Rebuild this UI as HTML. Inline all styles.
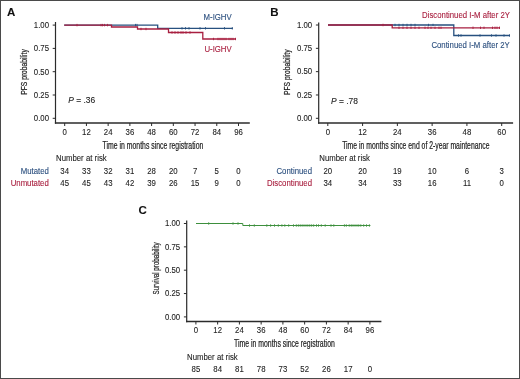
<!DOCTYPE html>
<html><head><meta charset="utf-8"><style>
html,body{margin:0;padding:0;background:#fff;}
body{width:520px;height:379px;overflow:hidden;}
svg{display:block;font-family:"Liberation Sans",sans-serif;will-change:transform;}
text{stroke-linejoin:round;}
</style></head><body>
<svg width="520" height="379" viewBox="0 0 520 379">
<rect x="0" y="0" width="520" height="379" fill="#fff"/>
<text x="7.00" y="15.80" text-anchor="start" font-size="11.5" fill="#111" stroke="#111" stroke-width="0.1" font-weight="bold">A</text>
<line x1="55.50" y1="22.00" x2="55.50" y2="123.70" stroke="#2b2b2b" stroke-width="1.2"/>
<line x1="54.90" y1="122.90" x2="249.80" y2="122.90" stroke="#2b2b2b" stroke-width="1.5"/>
<line x1="52.70" y1="25.10" x2="55.50" y2="25.10" stroke="#2b2b2b" stroke-width="1.0"/>
<text transform="translate(49.00,27.90) scale(0.9398,1)" text-anchor="end" font-size="8.3" fill="#1e1e1e" stroke="#1e1e1e" stroke-width="0.1" >1.00</text>
<line x1="52.70" y1="48.40" x2="55.50" y2="48.40" stroke="#2b2b2b" stroke-width="1.0"/>
<text transform="translate(49.00,51.20) scale(0.9398,1)" text-anchor="end" font-size="8.3" fill="#1e1e1e" stroke="#1e1e1e" stroke-width="0.1" >0.75</text>
<line x1="52.70" y1="71.70" x2="55.50" y2="71.70" stroke="#2b2b2b" stroke-width="1.0"/>
<text transform="translate(49.00,74.50) scale(0.9398,1)" text-anchor="end" font-size="8.3" fill="#1e1e1e" stroke="#1e1e1e" stroke-width="0.1" >0.50</text>
<line x1="52.70" y1="95.00" x2="55.50" y2="95.00" stroke="#2b2b2b" stroke-width="1.0"/>
<text transform="translate(49.00,97.80) scale(0.9398,1)" text-anchor="end" font-size="8.3" fill="#1e1e1e" stroke="#1e1e1e" stroke-width="0.1" >0.25</text>
<line x1="52.70" y1="118.30" x2="55.50" y2="118.30" stroke="#2b2b2b" stroke-width="1.0"/>
<text transform="translate(49.00,121.10) scale(0.9398,1)" text-anchor="end" font-size="8.3" fill="#1e1e1e" stroke="#1e1e1e" stroke-width="0.1" >0.00</text>
<line x1="64.70" y1="123.00" x2="64.70" y2="126.00" stroke="#2b2b2b" stroke-width="1.0"/>
<text transform="translate(64.70,134.60) scale(0.9398,1)" text-anchor="middle" font-size="8.3" fill="#1e1e1e" stroke="#1e1e1e" stroke-width="0.1" >0</text>
<line x1="86.43" y1="123.00" x2="86.43" y2="126.00" stroke="#2b2b2b" stroke-width="1.0"/>
<text transform="translate(86.43,134.60) scale(0.9398,1)" text-anchor="middle" font-size="8.3" fill="#1e1e1e" stroke="#1e1e1e" stroke-width="0.1" >12</text>
<line x1="108.15" y1="123.00" x2="108.15" y2="126.00" stroke="#2b2b2b" stroke-width="1.0"/>
<text transform="translate(108.15,134.60) scale(0.9398,1)" text-anchor="middle" font-size="8.3" fill="#1e1e1e" stroke="#1e1e1e" stroke-width="0.1" >24</text>
<line x1="129.88" y1="123.00" x2="129.88" y2="126.00" stroke="#2b2b2b" stroke-width="1.0"/>
<text transform="translate(129.88,134.60) scale(0.9398,1)" text-anchor="middle" font-size="8.3" fill="#1e1e1e" stroke="#1e1e1e" stroke-width="0.1" >36</text>
<line x1="151.60" y1="123.00" x2="151.60" y2="126.00" stroke="#2b2b2b" stroke-width="1.0"/>
<text transform="translate(151.60,134.60) scale(0.9398,1)" text-anchor="middle" font-size="8.3" fill="#1e1e1e" stroke="#1e1e1e" stroke-width="0.1" >48</text>
<line x1="173.32" y1="123.00" x2="173.32" y2="126.00" stroke="#2b2b2b" stroke-width="1.0"/>
<text transform="translate(173.32,134.60) scale(0.9398,1)" text-anchor="middle" font-size="8.3" fill="#1e1e1e" stroke="#1e1e1e" stroke-width="0.1" >60</text>
<line x1="195.05" y1="123.00" x2="195.05" y2="126.00" stroke="#2b2b2b" stroke-width="1.0"/>
<text transform="translate(195.05,134.60) scale(0.9398,1)" text-anchor="middle" font-size="8.3" fill="#1e1e1e" stroke="#1e1e1e" stroke-width="0.1" >72</text>
<line x1="216.78" y1="123.00" x2="216.78" y2="126.00" stroke="#2b2b2b" stroke-width="1.0"/>
<text transform="translate(216.78,134.60) scale(0.9398,1)" text-anchor="middle" font-size="8.3" fill="#1e1e1e" stroke="#1e1e1e" stroke-width="0.1" >84</text>
<line x1="238.50" y1="123.00" x2="238.50" y2="126.00" stroke="#2b2b2b" stroke-width="1.0"/>
<text transform="translate(238.50,134.60) scale(0.9398,1)" text-anchor="middle" font-size="8.3" fill="#1e1e1e" stroke="#1e1e1e" stroke-width="0.1" >96</text>
<text x="102.50" y="148.80" font-size="10" fill="#1e1e1e" stroke="#1e1e1e" stroke-width="0.22" textLength="100.80" lengthAdjust="spacingAndGlyphs">Time in months since registration</text>
<text transform="translate(26.90,94.80) rotate(-90)" x="0" y="0" font-size="9.3" fill="#1e1e1e" stroke="#1e1e1e" stroke-width="0.22" textLength="45.60" lengthAdjust="spacingAndGlyphs">PFS probability</text>
<path d="M64.20,25.10 H157.70 V28.30 H232.80" fill="none" stroke="#27507f" stroke-width="1.3" stroke-linejoin="miter" stroke-linecap="butt"/>
<line x1="182.00" y1="27.10" x2="182.00" y2="29.50" stroke="#27507f" stroke-width="0.9"/>
<line x1="185.50" y1="27.10" x2="185.50" y2="29.50" stroke="#27507f" stroke-width="0.9"/>
<line x1="189.00" y1="27.10" x2="189.00" y2="29.50" stroke="#27507f" stroke-width="0.9"/>
<line x1="200.00" y1="27.10" x2="200.00" y2="29.50" stroke="#27507f" stroke-width="0.9"/>
<line x1="205.50" y1="27.10" x2="205.50" y2="29.50" stroke="#27507f" stroke-width="0.9"/>
<line x1="224.50" y1="27.10" x2="224.50" y2="29.50" stroke="#27507f" stroke-width="0.9"/>
<line x1="232.30" y1="27.10" x2="232.30" y2="29.50" stroke="#27507f" stroke-width="0.9"/>
<line x1="135.50" y1="23.90" x2="135.50" y2="26.30" stroke="#27507f" stroke-width="0.9"/>
<line x1="137.00" y1="23.90" x2="137.00" y2="26.30" stroke="#27507f" stroke-width="0.9"/>
<path d="M64.20,25.10 H111.50 V27.00 H137.50 V29.00 H168.50 V32.50 H202.80 V39.00 H236.00" fill="none" stroke="#a81f40" stroke-width="1.3" stroke-linejoin="miter" stroke-linecap="butt"/>
<line x1="77.00" y1="23.90" x2="77.00" y2="26.30" stroke="#a81f40" stroke-width="0.9"/>
<line x1="101.00" y1="23.90" x2="101.00" y2="26.30" stroke="#a81f40" stroke-width="0.9"/>
<line x1="102.50" y1="23.90" x2="102.50" y2="26.30" stroke="#a81f40" stroke-width="0.9"/>
<line x1="104.50" y1="23.90" x2="104.50" y2="26.30" stroke="#a81f40" stroke-width="0.9"/>
<line x1="107.50" y1="23.90" x2="107.50" y2="26.30" stroke="#a81f40" stroke-width="0.9"/>
<line x1="141.00" y1="27.80" x2="141.00" y2="30.20" stroke="#a81f40" stroke-width="0.9"/>
<line x1="146.00" y1="27.80" x2="146.00" y2="30.20" stroke="#a81f40" stroke-width="0.9"/>
<line x1="172.00" y1="31.30" x2="172.00" y2="33.70" stroke="#a81f40" stroke-width="0.9"/>
<line x1="175.00" y1="31.30" x2="175.00" y2="33.70" stroke="#a81f40" stroke-width="0.9"/>
<line x1="178.00" y1="31.30" x2="178.00" y2="33.70" stroke="#a81f40" stroke-width="0.9"/>
<line x1="181.00" y1="31.30" x2="181.00" y2="33.70" stroke="#a81f40" stroke-width="0.9"/>
<line x1="183.00" y1="31.30" x2="183.00" y2="33.70" stroke="#a81f40" stroke-width="0.9"/>
<line x1="186.00" y1="31.30" x2="186.00" y2="33.70" stroke="#a81f40" stroke-width="0.9"/>
<line x1="190.00" y1="31.30" x2="190.00" y2="33.70" stroke="#a81f40" stroke-width="0.9"/>
<line x1="213.50" y1="37.80" x2="213.50" y2="40.20" stroke="#a81f40" stroke-width="0.9"/>
<line x1="218.00" y1="37.80" x2="218.00" y2="40.20" stroke="#a81f40" stroke-width="0.9"/>
<line x1="220.00" y1="37.80" x2="220.00" y2="40.20" stroke="#a81f40" stroke-width="0.9"/>
<line x1="222.00" y1="37.80" x2="222.00" y2="40.20" stroke="#a81f40" stroke-width="0.9"/>
<line x1="224.00" y1="37.80" x2="224.00" y2="40.20" stroke="#a81f40" stroke-width="0.9"/>
<line x1="226.00" y1="37.80" x2="226.00" y2="40.20" stroke="#a81f40" stroke-width="0.9"/>
<line x1="229.00" y1="37.80" x2="229.00" y2="40.20" stroke="#a81f40" stroke-width="0.9"/>
<line x1="231.00" y1="37.80" x2="231.00" y2="40.20" stroke="#a81f40" stroke-width="0.9"/>
<line x1="233.00" y1="37.80" x2="233.00" y2="40.20" stroke="#a81f40" stroke-width="0.9"/>
<line x1="235.50" y1="37.80" x2="235.50" y2="40.20" stroke="#a81f40" stroke-width="0.9"/>
<text transform="translate(231.70,20.30) scale(0.9398,1)" text-anchor="end" font-size="8.3" fill="#2a4e7e" stroke="#2a4e7e" stroke-width="0.1" >M-IGHV</text>
<text transform="translate(231.70,51.80) scale(0.9398,1)" text-anchor="end" font-size="8.3" fill="#a81d3d" stroke="#a81d3d" stroke-width="0.1" >U-IGHV</text>
<text transform="translate(68.20,103.30) scale(0.995,1)" text-anchor="start" font-size="8.5" fill="#1e1e1e" stroke="#1e1e1e" stroke-width="0.1" ><tspan font-style="italic">P</tspan> = .36</text>
<text transform="translate(56.00,161.20) scale(0.9398,1)" text-anchor="start" font-size="8.3" fill="#1e1e1e" stroke="#1e1e1e" stroke-width="0.1" >Number at risk</text>
<text transform="translate(48.80,173.80) scale(0.9398,1)" text-anchor="end" font-size="8.3" fill="#2a4e7e" stroke="#2a4e7e" stroke-width="0.1" >Mutated</text>
<text transform="translate(48.80,186.00) scale(0.9398,1)" text-anchor="end" font-size="8.3" fill="#a81d3d" stroke="#a81d3d" stroke-width="0.1" >Unmutated</text>
<text transform="translate(64.70,173.80) scale(0.9398,1)" text-anchor="middle" font-size="8.3" fill="#1e1e1e" stroke="#1e1e1e" stroke-width="0.1" >34</text>
<text transform="translate(64.70,186.00) scale(0.9398,1)" text-anchor="middle" font-size="8.3" fill="#1e1e1e" stroke="#1e1e1e" stroke-width="0.1" >45</text>
<text transform="translate(86.43,173.80) scale(0.9398,1)" text-anchor="middle" font-size="8.3" fill="#1e1e1e" stroke="#1e1e1e" stroke-width="0.1" >33</text>
<text transform="translate(86.43,186.00) scale(0.9398,1)" text-anchor="middle" font-size="8.3" fill="#1e1e1e" stroke="#1e1e1e" stroke-width="0.1" >45</text>
<text transform="translate(108.15,173.80) scale(0.9398,1)" text-anchor="middle" font-size="8.3" fill="#1e1e1e" stroke="#1e1e1e" stroke-width="0.1" >32</text>
<text transform="translate(108.15,186.00) scale(0.9398,1)" text-anchor="middle" font-size="8.3" fill="#1e1e1e" stroke="#1e1e1e" stroke-width="0.1" >43</text>
<text transform="translate(129.88,173.80) scale(0.9398,1)" text-anchor="middle" font-size="8.3" fill="#1e1e1e" stroke="#1e1e1e" stroke-width="0.1" >31</text>
<text transform="translate(129.88,186.00) scale(0.9398,1)" text-anchor="middle" font-size="8.3" fill="#1e1e1e" stroke="#1e1e1e" stroke-width="0.1" >42</text>
<text transform="translate(151.60,173.80) scale(0.9398,1)" text-anchor="middle" font-size="8.3" fill="#1e1e1e" stroke="#1e1e1e" stroke-width="0.1" >28</text>
<text transform="translate(151.60,186.00) scale(0.9398,1)" text-anchor="middle" font-size="8.3" fill="#1e1e1e" stroke="#1e1e1e" stroke-width="0.1" >39</text>
<text transform="translate(173.32,173.80) scale(0.9398,1)" text-anchor="middle" font-size="8.3" fill="#1e1e1e" stroke="#1e1e1e" stroke-width="0.1" >20</text>
<text transform="translate(173.32,186.00) scale(0.9398,1)" text-anchor="middle" font-size="8.3" fill="#1e1e1e" stroke="#1e1e1e" stroke-width="0.1" >26</text>
<text transform="translate(195.05,173.80) scale(0.9398,1)" text-anchor="middle" font-size="8.3" fill="#1e1e1e" stroke="#1e1e1e" stroke-width="0.1" >7</text>
<text transform="translate(195.05,186.00) scale(0.9398,1)" text-anchor="middle" font-size="8.3" fill="#1e1e1e" stroke="#1e1e1e" stroke-width="0.1" >15</text>
<text transform="translate(216.78,173.80) scale(0.9398,1)" text-anchor="middle" font-size="8.3" fill="#1e1e1e" stroke="#1e1e1e" stroke-width="0.1" >5</text>
<text transform="translate(216.78,186.00) scale(0.9398,1)" text-anchor="middle" font-size="8.3" fill="#1e1e1e" stroke="#1e1e1e" stroke-width="0.1" >9</text>
<text transform="translate(238.50,173.80) scale(0.9398,1)" text-anchor="middle" font-size="8.3" fill="#1e1e1e" stroke="#1e1e1e" stroke-width="0.1" >0</text>
<text transform="translate(238.50,186.00) scale(0.9398,1)" text-anchor="middle" font-size="8.3" fill="#1e1e1e" stroke="#1e1e1e" stroke-width="0.1" >0</text>
<text x="270.20" y="15.80" text-anchor="start" font-size="11.5" fill="#111" stroke="#111" stroke-width="0.1" font-weight="bold">B</text>
<line x1="318.70" y1="22.50" x2="318.70" y2="123.70" stroke="#2b2b2b" stroke-width="1.2"/>
<line x1="318.10" y1="122.90" x2="513.10" y2="122.90" stroke="#2b2b2b" stroke-width="1.5"/>
<line x1="315.90" y1="25.00" x2="318.70" y2="25.00" stroke="#2b2b2b" stroke-width="1.0"/>
<text transform="translate(312.20,27.80) scale(0.9398,1)" text-anchor="end" font-size="8.3" fill="#1e1e1e" stroke="#1e1e1e" stroke-width="0.1" >1.00</text>
<line x1="315.90" y1="48.33" x2="318.70" y2="48.33" stroke="#2b2b2b" stroke-width="1.0"/>
<text transform="translate(312.20,51.12) scale(0.9398,1)" text-anchor="end" font-size="8.3" fill="#1e1e1e" stroke="#1e1e1e" stroke-width="0.1" >0.75</text>
<line x1="315.90" y1="71.65" x2="318.70" y2="71.65" stroke="#2b2b2b" stroke-width="1.0"/>
<text transform="translate(312.20,74.45) scale(0.9398,1)" text-anchor="end" font-size="8.3" fill="#1e1e1e" stroke="#1e1e1e" stroke-width="0.1" >0.50</text>
<line x1="315.90" y1="94.97" x2="318.70" y2="94.97" stroke="#2b2b2b" stroke-width="1.0"/>
<text transform="translate(312.20,97.77) scale(0.9398,1)" text-anchor="end" font-size="8.3" fill="#1e1e1e" stroke="#1e1e1e" stroke-width="0.1" >0.25</text>
<line x1="315.90" y1="118.30" x2="318.70" y2="118.30" stroke="#2b2b2b" stroke-width="1.0"/>
<text transform="translate(312.20,121.10) scale(0.9398,1)" text-anchor="end" font-size="8.3" fill="#1e1e1e" stroke="#1e1e1e" stroke-width="0.1" >0.00</text>
<line x1="327.80" y1="123.00" x2="327.80" y2="126.00" stroke="#2b2b2b" stroke-width="1.0"/>
<text transform="translate(327.80,134.60) scale(0.9398,1)" text-anchor="middle" font-size="8.3" fill="#1e1e1e" stroke="#1e1e1e" stroke-width="0.1" >0</text>
<line x1="362.58" y1="123.00" x2="362.58" y2="126.00" stroke="#2b2b2b" stroke-width="1.0"/>
<text transform="translate(362.58,134.60) scale(0.9398,1)" text-anchor="middle" font-size="8.3" fill="#1e1e1e" stroke="#1e1e1e" stroke-width="0.1" >12</text>
<line x1="397.36" y1="123.00" x2="397.36" y2="126.00" stroke="#2b2b2b" stroke-width="1.0"/>
<text transform="translate(397.36,134.60) scale(0.9398,1)" text-anchor="middle" font-size="8.3" fill="#1e1e1e" stroke="#1e1e1e" stroke-width="0.1" >24</text>
<line x1="432.14" y1="123.00" x2="432.14" y2="126.00" stroke="#2b2b2b" stroke-width="1.0"/>
<text transform="translate(432.14,134.60) scale(0.9398,1)" text-anchor="middle" font-size="8.3" fill="#1e1e1e" stroke="#1e1e1e" stroke-width="0.1" >36</text>
<line x1="466.92" y1="123.00" x2="466.92" y2="126.00" stroke="#2b2b2b" stroke-width="1.0"/>
<text transform="translate(466.92,134.60) scale(0.9398,1)" text-anchor="middle" font-size="8.3" fill="#1e1e1e" stroke="#1e1e1e" stroke-width="0.1" >48</text>
<line x1="501.70" y1="123.00" x2="501.70" y2="126.00" stroke="#2b2b2b" stroke-width="1.0"/>
<text transform="translate(501.70,134.60) scale(0.9398,1)" text-anchor="middle" font-size="8.3" fill="#1e1e1e" stroke="#1e1e1e" stroke-width="0.1" >60</text>
<text x="342.20" y="148.80" font-size="10" fill="#1e1e1e" stroke="#1e1e1e" stroke-width="0.22" textLength="147.30" lengthAdjust="spacingAndGlyphs">Time in months since end of 2-year maintenance</text>
<text transform="translate(290.10,95.00) rotate(-90)" x="0" y="0" font-size="9.3" fill="#1e1e1e" stroke="#1e1e1e" stroke-width="0.22" textLength="45.60" lengthAdjust="spacingAndGlyphs">PFS probability</text>
<path d="M328.00,25.00 H453.80 V35.50 H510.00" fill="none" stroke="#27507f" stroke-width="1.3" stroke-linejoin="miter" stroke-linecap="butt"/>
<line x1="395.00" y1="23.80" x2="395.00" y2="26.20" stroke="#27507f" stroke-width="0.9"/>
<line x1="399.00" y1="23.80" x2="399.00" y2="26.20" stroke="#27507f" stroke-width="0.9"/>
<line x1="403.00" y1="23.80" x2="403.00" y2="26.20" stroke="#27507f" stroke-width="0.9"/>
<line x1="407.00" y1="23.80" x2="407.00" y2="26.20" stroke="#27507f" stroke-width="0.9"/>
<line x1="411.00" y1="23.80" x2="411.00" y2="26.20" stroke="#27507f" stroke-width="0.9"/>
<line x1="415.00" y1="23.80" x2="415.00" y2="26.20" stroke="#27507f" stroke-width="0.9"/>
<line x1="428.50" y1="23.80" x2="428.50" y2="26.20" stroke="#27507f" stroke-width="0.9"/>
<line x1="433.00" y1="23.80" x2="433.00" y2="26.20" stroke="#27507f" stroke-width="0.9"/>
<line x1="458.50" y1="34.30" x2="458.50" y2="36.70" stroke="#27507f" stroke-width="0.9"/>
<line x1="461.00" y1="34.30" x2="461.00" y2="36.70" stroke="#27507f" stroke-width="0.9"/>
<line x1="480.00" y1="34.30" x2="480.00" y2="36.70" stroke="#27507f" stroke-width="0.9"/>
<line x1="491.50" y1="34.30" x2="491.50" y2="36.70" stroke="#27507f" stroke-width="0.9"/>
<line x1="496.00" y1="34.30" x2="496.00" y2="36.70" stroke="#27507f" stroke-width="0.9"/>
<line x1="504.00" y1="34.30" x2="504.00" y2="36.70" stroke="#27507f" stroke-width="0.9"/>
<line x1="509.50" y1="34.30" x2="509.50" y2="36.70" stroke="#27507f" stroke-width="0.9"/>
<path d="M328.00,25.00 H392.20 V27.80 H500.00" fill="none" stroke="#a81f40" stroke-width="1.3" stroke-linejoin="miter" stroke-linecap="butt"/>
<line x1="383.00" y1="23.80" x2="383.00" y2="26.20" stroke="#a81f40" stroke-width="0.9"/>
<line x1="399.00" y1="26.60" x2="399.00" y2="29.00" stroke="#a81f40" stroke-width="0.9"/>
<line x1="403.00" y1="26.60" x2="403.00" y2="29.00" stroke="#a81f40" stroke-width="0.9"/>
<line x1="407.00" y1="26.60" x2="407.00" y2="29.00" stroke="#a81f40" stroke-width="0.9"/>
<line x1="411.00" y1="26.60" x2="411.00" y2="29.00" stroke="#a81f40" stroke-width="0.9"/>
<line x1="415.00" y1="26.60" x2="415.00" y2="29.00" stroke="#a81f40" stroke-width="0.9"/>
<line x1="419.00" y1="26.60" x2="419.00" y2="29.00" stroke="#a81f40" stroke-width="0.9"/>
<line x1="425.00" y1="26.60" x2="425.00" y2="29.00" stroke="#a81f40" stroke-width="0.9"/>
<line x1="428.00" y1="26.60" x2="428.00" y2="29.00" stroke="#a81f40" stroke-width="0.9"/>
<line x1="431.00" y1="26.60" x2="431.00" y2="29.00" stroke="#a81f40" stroke-width="0.9"/>
<line x1="435.00" y1="26.60" x2="435.00" y2="29.00" stroke="#a81f40" stroke-width="0.9"/>
<line x1="439.00" y1="26.60" x2="439.00" y2="29.00" stroke="#a81f40" stroke-width="0.9"/>
<line x1="441.00" y1="26.60" x2="441.00" y2="29.00" stroke="#a81f40" stroke-width="0.9"/>
<line x1="473.00" y1="26.60" x2="473.00" y2="29.00" stroke="#a81f40" stroke-width="0.9"/>
<line x1="480.50" y1="26.60" x2="480.50" y2="29.00" stroke="#a81f40" stroke-width="0.9"/>
<line x1="484.00" y1="26.60" x2="484.00" y2="29.00" stroke="#a81f40" stroke-width="0.9"/>
<line x1="492.50" y1="26.60" x2="492.50" y2="29.00" stroke="#a81f40" stroke-width="0.9"/>
<line x1="495.00" y1="26.60" x2="495.00" y2="29.00" stroke="#a81f40" stroke-width="0.9"/>
<line x1="497.00" y1="26.60" x2="497.00" y2="29.00" stroke="#a81f40" stroke-width="0.9"/>
<line x1="499.50" y1="26.60" x2="499.50" y2="29.00" stroke="#a81f40" stroke-width="0.9"/>
<text transform="translate(510.00,17.80) scale(0.9398,1)" text-anchor="end" font-size="8.3" fill="#a81d3d" stroke="#a81d3d" stroke-width="0.1" >Discontinued I-M after 2Y</text>
<text transform="translate(509.80,48.00) scale(0.9398,1)" text-anchor="end" font-size="8.3" fill="#2a4e7e" stroke="#2a4e7e" stroke-width="0.1" >Continued I-M after 2Y</text>
<text transform="translate(331.00,103.50) scale(0.995,1)" text-anchor="start" font-size="8.5" fill="#1e1e1e" stroke="#1e1e1e" stroke-width="0.1" ><tspan font-style="italic">P</tspan> = .78</text>
<text transform="translate(319.30,161.20) scale(0.9398,1)" text-anchor="start" font-size="8.3" fill="#1e1e1e" stroke="#1e1e1e" stroke-width="0.1" >Number at risk</text>
<text transform="translate(312.00,173.80) scale(0.9398,1)" text-anchor="end" font-size="8.3" fill="#2a4e7e" stroke="#2a4e7e" stroke-width="0.1" >Continued</text>
<text transform="translate(312.00,186.00) scale(0.9398,1)" text-anchor="end" font-size="8.3" fill="#a81d3d" stroke="#a81d3d" stroke-width="0.1" >Discontinued</text>
<text transform="translate(327.80,173.80) scale(0.9398,1)" text-anchor="middle" font-size="8.3" fill="#1e1e1e" stroke="#1e1e1e" stroke-width="0.1" >20</text>
<text transform="translate(327.80,186.00) scale(0.9398,1)" text-anchor="middle" font-size="8.3" fill="#1e1e1e" stroke="#1e1e1e" stroke-width="0.1" >34</text>
<text transform="translate(362.58,173.80) scale(0.9398,1)" text-anchor="middle" font-size="8.3" fill="#1e1e1e" stroke="#1e1e1e" stroke-width="0.1" >20</text>
<text transform="translate(362.58,186.00) scale(0.9398,1)" text-anchor="middle" font-size="8.3" fill="#1e1e1e" stroke="#1e1e1e" stroke-width="0.1" >34</text>
<text transform="translate(397.36,173.80) scale(0.9398,1)" text-anchor="middle" font-size="8.3" fill="#1e1e1e" stroke="#1e1e1e" stroke-width="0.1" >19</text>
<text transform="translate(397.36,186.00) scale(0.9398,1)" text-anchor="middle" font-size="8.3" fill="#1e1e1e" stroke="#1e1e1e" stroke-width="0.1" >33</text>
<text transform="translate(432.14,173.80) scale(0.9398,1)" text-anchor="middle" font-size="8.3" fill="#1e1e1e" stroke="#1e1e1e" stroke-width="0.1" >10</text>
<text transform="translate(432.14,186.00) scale(0.9398,1)" text-anchor="middle" font-size="8.3" fill="#1e1e1e" stroke="#1e1e1e" stroke-width="0.1" >16</text>
<text transform="translate(466.92,173.80) scale(0.9398,1)" text-anchor="middle" font-size="8.3" fill="#1e1e1e" stroke="#1e1e1e" stroke-width="0.1" >6</text>
<text transform="translate(466.92,186.00) scale(0.9398,1)" text-anchor="middle" font-size="8.3" fill="#1e1e1e" stroke="#1e1e1e" stroke-width="0.1" >11</text>
<text transform="translate(501.70,173.80) scale(0.9398,1)" text-anchor="middle" font-size="8.3" fill="#1e1e1e" stroke="#1e1e1e" stroke-width="0.1" >3</text>
<text transform="translate(501.70,186.00) scale(0.9398,1)" text-anchor="middle" font-size="8.3" fill="#1e1e1e" stroke="#1e1e1e" stroke-width="0.1" >0</text>
<text x="138.60" y="214.00" text-anchor="start" font-size="11.5" fill="#111" stroke="#111" stroke-width="0.1" font-weight="bold">C</text>
<line x1="186.70" y1="220.50" x2="186.70" y2="322.20" stroke="#2b2b2b" stroke-width="1.2"/>
<line x1="186.10" y1="321.40" x2="381.40" y2="321.40" stroke="#2b2b2b" stroke-width="1.5"/>
<line x1="183.90" y1="223.50" x2="186.70" y2="223.50" stroke="#2b2b2b" stroke-width="1.0"/>
<text transform="translate(180.20,226.30) scale(0.9398,1)" text-anchor="end" font-size="8.3" fill="#1e1e1e" stroke="#1e1e1e" stroke-width="0.1" >1.00</text>
<line x1="183.90" y1="246.85" x2="186.70" y2="246.85" stroke="#2b2b2b" stroke-width="1.0"/>
<text transform="translate(180.20,249.65) scale(0.9398,1)" text-anchor="end" font-size="8.3" fill="#1e1e1e" stroke="#1e1e1e" stroke-width="0.1" >0.75</text>
<line x1="183.90" y1="270.20" x2="186.70" y2="270.20" stroke="#2b2b2b" stroke-width="1.0"/>
<text transform="translate(180.20,273.00) scale(0.9398,1)" text-anchor="end" font-size="8.3" fill="#1e1e1e" stroke="#1e1e1e" stroke-width="0.1" >0.50</text>
<line x1="183.90" y1="293.55" x2="186.70" y2="293.55" stroke="#2b2b2b" stroke-width="1.0"/>
<text transform="translate(180.20,296.35) scale(0.9398,1)" text-anchor="end" font-size="8.3" fill="#1e1e1e" stroke="#1e1e1e" stroke-width="0.1" >0.25</text>
<line x1="183.90" y1="316.90" x2="186.70" y2="316.90" stroke="#2b2b2b" stroke-width="1.0"/>
<text transform="translate(180.20,319.70) scale(0.9398,1)" text-anchor="end" font-size="8.3" fill="#1e1e1e" stroke="#1e1e1e" stroke-width="0.1" >0.00</text>
<line x1="195.90" y1="321.50" x2="195.90" y2="324.50" stroke="#2b2b2b" stroke-width="1.0"/>
<text transform="translate(195.90,333.10) scale(0.9398,1)" text-anchor="middle" font-size="8.3" fill="#1e1e1e" stroke="#1e1e1e" stroke-width="0.1" >0</text>
<line x1="217.65" y1="321.50" x2="217.65" y2="324.50" stroke="#2b2b2b" stroke-width="1.0"/>
<text transform="translate(217.65,333.10) scale(0.9398,1)" text-anchor="middle" font-size="8.3" fill="#1e1e1e" stroke="#1e1e1e" stroke-width="0.1" >12</text>
<line x1="239.40" y1="321.50" x2="239.40" y2="324.50" stroke="#2b2b2b" stroke-width="1.0"/>
<text transform="translate(239.40,333.10) scale(0.9398,1)" text-anchor="middle" font-size="8.3" fill="#1e1e1e" stroke="#1e1e1e" stroke-width="0.1" >24</text>
<line x1="261.15" y1="321.50" x2="261.15" y2="324.50" stroke="#2b2b2b" stroke-width="1.0"/>
<text transform="translate(261.15,333.10) scale(0.9398,1)" text-anchor="middle" font-size="8.3" fill="#1e1e1e" stroke="#1e1e1e" stroke-width="0.1" >36</text>
<line x1="282.90" y1="321.50" x2="282.90" y2="324.50" stroke="#2b2b2b" stroke-width="1.0"/>
<text transform="translate(282.90,333.10) scale(0.9398,1)" text-anchor="middle" font-size="8.3" fill="#1e1e1e" stroke="#1e1e1e" stroke-width="0.1" >48</text>
<line x1="304.65" y1="321.50" x2="304.65" y2="324.50" stroke="#2b2b2b" stroke-width="1.0"/>
<text transform="translate(304.65,333.10) scale(0.9398,1)" text-anchor="middle" font-size="8.3" fill="#1e1e1e" stroke="#1e1e1e" stroke-width="0.1" >60</text>
<line x1="326.40" y1="321.50" x2="326.40" y2="324.50" stroke="#2b2b2b" stroke-width="1.0"/>
<text transform="translate(326.40,333.10) scale(0.9398,1)" text-anchor="middle" font-size="8.3" fill="#1e1e1e" stroke="#1e1e1e" stroke-width="0.1" >72</text>
<line x1="348.15" y1="321.50" x2="348.15" y2="324.50" stroke="#2b2b2b" stroke-width="1.0"/>
<text transform="translate(348.15,333.10) scale(0.9398,1)" text-anchor="middle" font-size="8.3" fill="#1e1e1e" stroke="#1e1e1e" stroke-width="0.1" >84</text>
<line x1="369.90" y1="321.50" x2="369.90" y2="324.50" stroke="#2b2b2b" stroke-width="1.0"/>
<text transform="translate(369.90,333.10) scale(0.9398,1)" text-anchor="middle" font-size="8.3" fill="#1e1e1e" stroke="#1e1e1e" stroke-width="0.1" >96</text>
<text x="234.00" y="347.30" font-size="10" fill="#1e1e1e" stroke="#1e1e1e" stroke-width="0.22" textLength="100.80" lengthAdjust="spacingAndGlyphs">Time in months since registration</text>
<text transform="translate(158.90,294.50) rotate(-90)" x="0" y="0" font-size="9.3" fill="#1e1e1e" stroke="#1e1e1e" stroke-width="0.22" textLength="52.20" lengthAdjust="spacingAndGlyphs">Survival probability</text>
<path d="M196.00,223.50 H242.80 V225.50 H370.40" fill="none" stroke="#3d8f3d" stroke-width="1.0" stroke-linejoin="miter" stroke-linecap="butt"/>
<line x1="208.70" y1="222.30" x2="208.70" y2="224.70" stroke="#3d8f3d" stroke-width="0.9"/>
<line x1="233.00" y1="222.30" x2="233.00" y2="224.70" stroke="#3d8f3d" stroke-width="0.9"/>
<line x1="238.00" y1="222.30" x2="238.00" y2="224.70" stroke="#3d8f3d" stroke-width="0.9"/>
<line x1="249.50" y1="224.30" x2="249.50" y2="226.70" stroke="#3d8f3d" stroke-width="0.9"/>
<line x1="254.30" y1="224.30" x2="254.30" y2="226.70" stroke="#3d8f3d" stroke-width="0.9"/>
<line x1="266.80" y1="224.30" x2="266.80" y2="226.70" stroke="#3d8f3d" stroke-width="0.9"/>
<line x1="270.60" y1="224.30" x2="270.60" y2="226.70" stroke="#3d8f3d" stroke-width="0.9"/>
<line x1="274.50" y1="224.30" x2="274.50" y2="226.70" stroke="#3d8f3d" stroke-width="0.9"/>
<line x1="278.30" y1="224.30" x2="278.30" y2="226.70" stroke="#3d8f3d" stroke-width="0.9"/>
<line x1="281.90" y1="224.30" x2="281.90" y2="226.70" stroke="#3d8f3d" stroke-width="0.9"/>
<line x1="284.80" y1="224.30" x2="284.80" y2="226.70" stroke="#3d8f3d" stroke-width="0.9"/>
<line x1="288.70" y1="224.30" x2="288.70" y2="226.70" stroke="#3d8f3d" stroke-width="0.9"/>
<line x1="293.50" y1="224.30" x2="293.50" y2="226.70" stroke="#3d8f3d" stroke-width="0.9"/>
<line x1="296.30" y1="224.30" x2="296.30" y2="226.70" stroke="#3d8f3d" stroke-width="0.9"/>
<line x1="298.30" y1="224.30" x2="298.30" y2="226.70" stroke="#3d8f3d" stroke-width="0.9"/>
<line x1="300.20" y1="224.30" x2="300.20" y2="226.70" stroke="#3d8f3d" stroke-width="0.9"/>
<line x1="302.10" y1="224.30" x2="302.10" y2="226.70" stroke="#3d8f3d" stroke-width="0.9"/>
<line x1="304.00" y1="224.30" x2="304.00" y2="226.70" stroke="#3d8f3d" stroke-width="0.9"/>
<line x1="306.00" y1="224.30" x2="306.00" y2="226.70" stroke="#3d8f3d" stroke-width="0.9"/>
<line x1="307.90" y1="224.30" x2="307.90" y2="226.70" stroke="#3d8f3d" stroke-width="0.9"/>
<line x1="309.80" y1="224.30" x2="309.80" y2="226.70" stroke="#3d8f3d" stroke-width="0.9"/>
<line x1="311.70" y1="224.30" x2="311.70" y2="226.70" stroke="#3d8f3d" stroke-width="0.9"/>
<line x1="313.70" y1="224.30" x2="313.70" y2="226.70" stroke="#3d8f3d" stroke-width="0.9"/>
<line x1="316.50" y1="224.30" x2="316.50" y2="226.70" stroke="#3d8f3d" stroke-width="0.9"/>
<line x1="318.50" y1="224.30" x2="318.50" y2="226.70" stroke="#3d8f3d" stroke-width="0.9"/>
<line x1="321.30" y1="224.30" x2="321.30" y2="226.70" stroke="#3d8f3d" stroke-width="0.9"/>
<line x1="325.20" y1="224.30" x2="325.20" y2="226.70" stroke="#3d8f3d" stroke-width="0.9"/>
<line x1="331.00" y1="224.30" x2="331.00" y2="226.70" stroke="#3d8f3d" stroke-width="0.9"/>
<line x1="333.80" y1="224.30" x2="333.80" y2="226.70" stroke="#3d8f3d" stroke-width="0.9"/>
<line x1="344.40" y1="224.30" x2="344.40" y2="226.70" stroke="#3d8f3d" stroke-width="0.9"/>
<line x1="346.30" y1="224.30" x2="346.30" y2="226.70" stroke="#3d8f3d" stroke-width="0.9"/>
<line x1="349.20" y1="224.30" x2="349.20" y2="226.70" stroke="#3d8f3d" stroke-width="0.9"/>
<line x1="351.20" y1="224.30" x2="351.20" y2="226.70" stroke="#3d8f3d" stroke-width="0.9"/>
<line x1="353.00" y1="224.30" x2="353.00" y2="226.70" stroke="#3d8f3d" stroke-width="0.9"/>
<line x1="355.00" y1="224.30" x2="355.00" y2="226.70" stroke="#3d8f3d" stroke-width="0.9"/>
<line x1="357.00" y1="224.30" x2="357.00" y2="226.70" stroke="#3d8f3d" stroke-width="0.9"/>
<line x1="358.80" y1="224.30" x2="358.80" y2="226.70" stroke="#3d8f3d" stroke-width="0.9"/>
<line x1="360.80" y1="224.30" x2="360.80" y2="226.70" stroke="#3d8f3d" stroke-width="0.9"/>
<line x1="363.70" y1="224.30" x2="363.70" y2="226.70" stroke="#3d8f3d" stroke-width="0.9"/>
<line x1="366.50" y1="224.30" x2="366.50" y2="226.70" stroke="#3d8f3d" stroke-width="0.9"/>
<line x1="369.40" y1="224.30" x2="369.40" y2="226.70" stroke="#3d8f3d" stroke-width="0.9"/>
<text transform="translate(187.00,360.10) scale(0.9398,1)" text-anchor="start" font-size="8.3" fill="#1e1e1e" stroke="#1e1e1e" stroke-width="0.1" >Number at risk</text>
<text transform="translate(195.90,372.40) scale(0.9398,1)" text-anchor="middle" font-size="8.3" fill="#1e1e1e" stroke="#1e1e1e" stroke-width="0.1" >85</text>
<text transform="translate(217.65,372.40) scale(0.9398,1)" text-anchor="middle" font-size="8.3" fill="#1e1e1e" stroke="#1e1e1e" stroke-width="0.1" >84</text>
<text transform="translate(239.40,372.40) scale(0.9398,1)" text-anchor="middle" font-size="8.3" fill="#1e1e1e" stroke="#1e1e1e" stroke-width="0.1" >81</text>
<text transform="translate(261.15,372.40) scale(0.9398,1)" text-anchor="middle" font-size="8.3" fill="#1e1e1e" stroke="#1e1e1e" stroke-width="0.1" >78</text>
<text transform="translate(282.90,372.40) scale(0.9398,1)" text-anchor="middle" font-size="8.3" fill="#1e1e1e" stroke="#1e1e1e" stroke-width="0.1" >73</text>
<text transform="translate(304.65,372.40) scale(0.9398,1)" text-anchor="middle" font-size="8.3" fill="#1e1e1e" stroke="#1e1e1e" stroke-width="0.1" >52</text>
<text transform="translate(326.40,372.40) scale(0.9398,1)" text-anchor="middle" font-size="8.3" fill="#1e1e1e" stroke="#1e1e1e" stroke-width="0.1" >26</text>
<text transform="translate(348.15,372.40) scale(0.9398,1)" text-anchor="middle" font-size="8.3" fill="#1e1e1e" stroke="#1e1e1e" stroke-width="0.1" >17</text>
<text transform="translate(369.90,372.40) scale(0.9398,1)" text-anchor="middle" font-size="8.3" fill="#1e1e1e" stroke="#1e1e1e" stroke-width="0.1" >0</text>
<rect x="0.5" y="0.5" width="519" height="378" fill="none" stroke="#4a4a4a" stroke-width="1"/>
</svg>
</body></html>
